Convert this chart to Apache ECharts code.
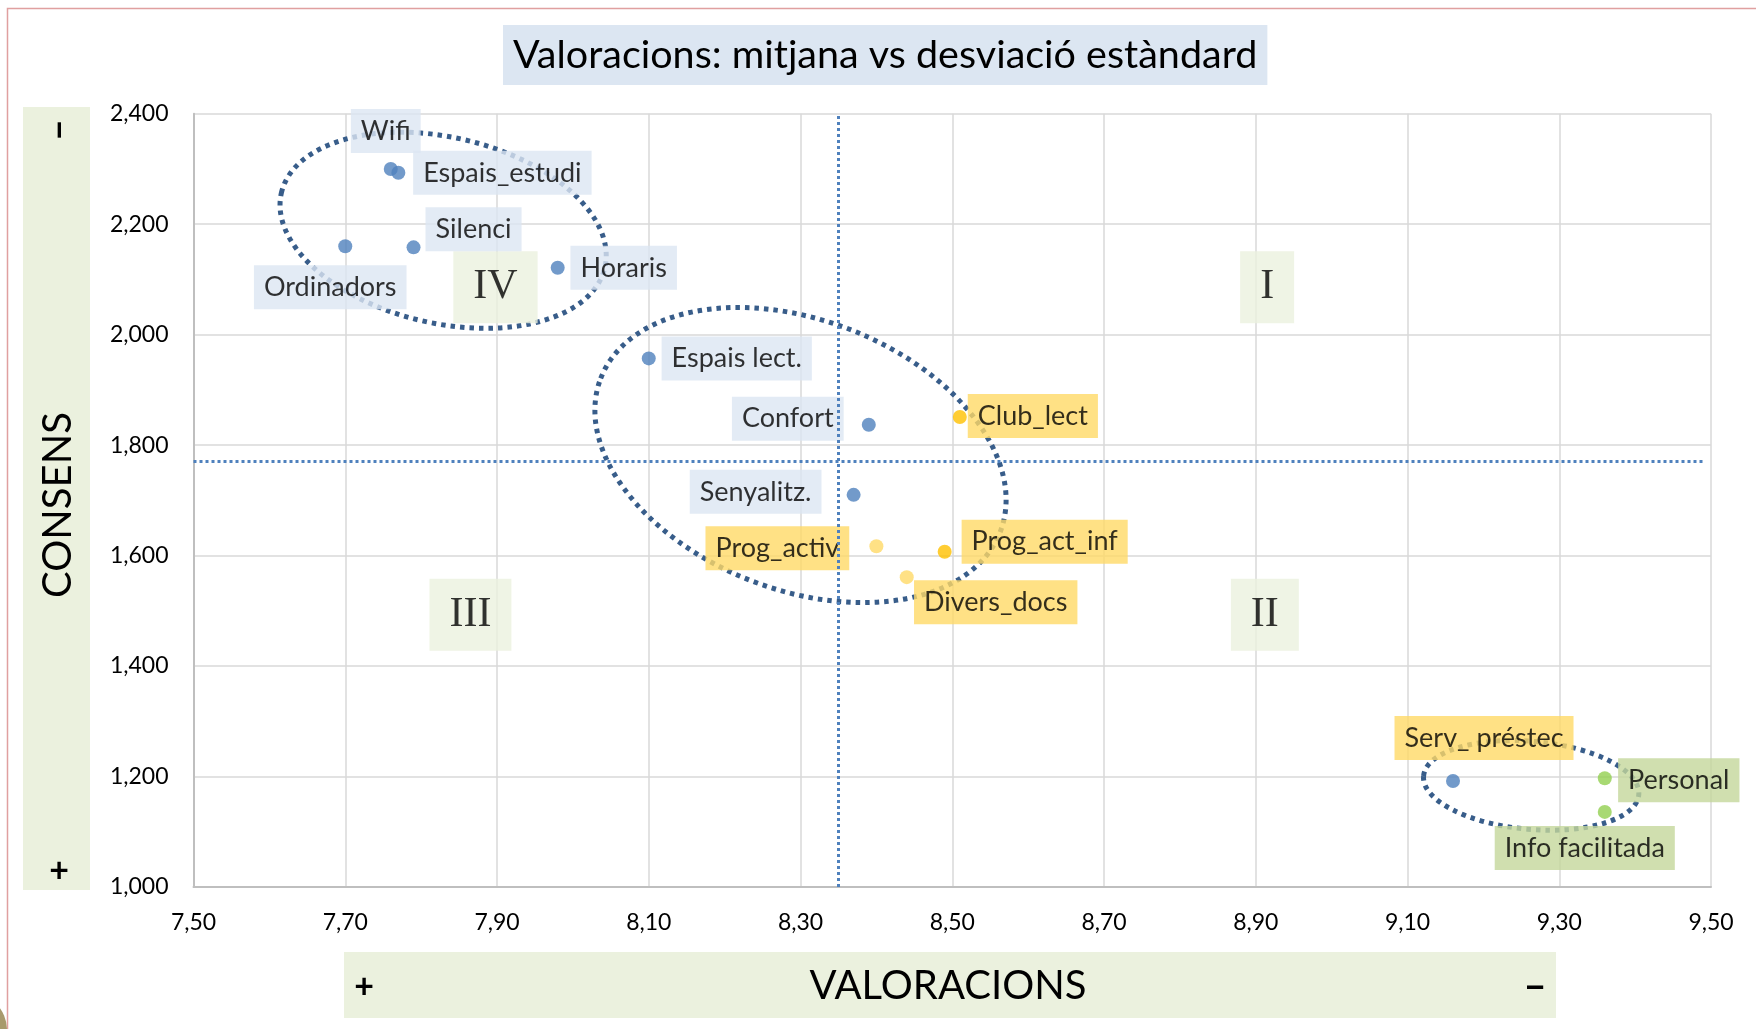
<!DOCTYPE html>
<html>
<head>
<meta charset="utf-8">
<script src="https://cdn.jsdelivr.net/npm/echarts@6/dist/echarts.min.js"></script>
<style>
html,body{margin:0;padding:0;background:#fff;}
#c{width:1756px;height:1029px;}
</style>
</head>
<body>
<div id="c"></div>
<script>
// ---- data ----
const names = ['Wifi','Espais_estudi','Silenci','Ordinadors','Horaris','Espais lect.','Confort','Club_lect','Senyalitz.','Prog_activ','Prog_act_inf','Divers_docs','Serv_ préstec','Personal','Info facilitada'];
const valoracio = [7.76, 7.77, 7.79, 7.70, 7.98, 8.10, 8.39, 8.51, 8.37, 8.40, 8.49, 8.44, 9.16, 9.36, 9.36];
const desviacio = [2.300, 2.293, 2.158, 2.160, 2.121, 1.957, 1.837, 1.851, 1.710, 1.617, 1.607, 1.561, 1.192, 1.197, 1.136];
const pointGroup = ['blau','blau','blau','blau','blau','blau','blau','taronja','blau','groc','taronja','groc','blau','verd','verd'];
const labelGroup = ['blau','blau','blau','blau','blau','blau','blau','groc','blau','groc','groc','groc','groc','verd','verd'];

const quadNames = ['I','II','III','IV'];
const quadX = [8.915, 8.912, 7.865, 7.898];
const quadY = [2.086, 1.493, 1.493, 2.086];

const meanX = 8.354;   // vertical reference line
const meanY = 1.770;   // horizontal reference line

const xTicks = { min: 7.5, max: 9.5, interval: 0.2 };
const yTicks = { min: 1.0, max: 2.4, interval: 0.2 };

// ellipses grouping the points (centre in data units)
const ellipseCX = [7.829, 8.300, 9.263];
const ellipseCY = [2.189, 1.782, 1.184];

// ---- styles ----
const pointColors = { blau: '#4F81BD', taronja: '#FFC000', groc: '#FFD966', verd: '#92D050' };
const labelColors = { blau: '#DCE6F2', groc: '#FFD966', verd: '#C4D79B' };
// label box centre offset from the point (pixels)
const labelOffsets = [[-5,-38],[104,0],[60,-18],[-15,41],[66,0],[88,0],[-81,-6],[73,-1],[-98,-3],[-99,2],[100,-10],[89,25],[31,-43],[74,2],[-20,36]];
const ellipseRX = [166, 214, 108];
const ellipseRY = [93, 135, 44];
const ellipseRot = [13, 21, 5];

const FONT = 'Lato';

const pts = names.map((n, i) => ({
  name: n,
  value: [valoracio[i], desviacio[i]],
  itemStyle: { color: pointColors[pointGroup[i]] },
  label: {
    show: true,
    formatter: n,
    position: 'inside',
    offset: labelOffsets[i],
    backgroundColor: labelColors[labelGroup[i]],
    padding: [8, 10],
    fontFamily: FONT,
    fontSize: 27,
    lineHeight: 28,
    color: '#000'
  }
}));

const quads = quadNames.map((q, i) => ({
  name: q,
  value: [quadX[i], quadY[i]],
  label: {
    show: true,
    formatter: q,
    position: 'inside',
    backgroundColor: '#EBF1DE',
    padding: [16, 20],
    fontFamily: 'Liberation Serif',
    fontSize: 42,
    lineHeight: 40,
    color: '#000'
  }
}));

const chart = echarts.init(document.getElementById('c'), null, { renderer: 'canvas' });

const option = {
  animation: false,
  backgroundColor: '#fff',
  title: {
    text: 'Valoracions: mitjana vs desviació estàndard',
    left: 503, top: 25,
    backgroundColor: '#DCE6F2',
    padding: [10, 10, 10, 10],
    textStyle: { fontFamily: FONT, fontSize: 39.5, fontWeight: 'normal', color: '#000', lineHeight: 40 }
  },
  grid: { left: 193.5, right: 45, top: 113.7, bottom: 142 },
  xAxis: {
    type: 'value', min: xTicks.min, max: xTicks.max, interval: xTicks.interval,
    axisLine: { show: true, onZero: false, lineStyle: { color: '#BFBFBF', width: 2 } },
    axisTick: { show: false },
    splitLine: { show: true, lineStyle: { color: '#D9D9D9', width: 1.5 } },
    axisLabel: { fontFamily: FONT, fontSize: 23, color: '#000', margin: 24,
      formatter: v => v.toFixed(2).replace('.', ',') }
  },
  yAxis: {
    type: 'value', min: yTicks.min, max: yTicks.max, interval: yTicks.interval,
    axisLine: { show: true, onZero: false, lineStyle: { color: '#BFBFBF', width: 2 } },
    axisTick: { show: false },
    splitLine: { show: true, lineStyle: { color: '#D9D9D9', width: 1.5 } },
    axisLabel: { fontFamily: FONT, fontSize: 23, color: '#000', margin: 25,
      formatter: v => v.toFixed(3).replace('.', ',') }
  },
  series: [
    {
      type: 'scatter', name: 'ref', data: [], z: 1, silent: true,
      markLine: {
        silent: true, symbol: 'none', label: { show: false },
        lineStyle: { color: '#4F81BD', width: 3, type: [3, 3] },
        data: [
          { xAxis: meanX },
          [{ coord: [xTicks.min, meanY] }, { coord: [9.49, meanY] }]
        ]
      }
    },
    {
      type: 'scatter', name: 'quadrants', data: quads, z: 3, silent: true,
      symbolSize: 0.1, itemStyle: { color: 'rgba(0,0,0,0)' }
    },
    {
      type: 'scatter', name: 'serveis', data: pts, z: 4, symbolSize: 14
    }
  ]
};
chart.setOption(option);

const g = [];
g.push({ type: 'rect', shape: { x: 7.5, y: 8.5, width: 1800, height: 1100 },
  style: { fill: 'none', stroke: '#E0A0A0', lineWidth: 1.5 }, z: 0, silent: true });
g.push({ type: 'circle', shape: { cx: -30, cy: 1030, r: 37 }, style: { fill: '#A89A6C' }, z: 0 });
// y-axis name box
g.push({ type: 'rect', shape: { x: 23, y: 107, width: 67, height: 783 }, style: { fill: '#EBF1DE' }, z: 0 });
g.push({ type: 'text', x: 58, y: 505, rotation: Math.PI / 2,
  style: { text: 'CONSENS', fontFamily: FONT, fontSize: 40, fill: '#000', align: 'center', verticalAlign: 'middle' }, z: 1 });
g.push({ type: 'text', x: 59, y: 130, rotation: Math.PI / 2,
  style: { text: '–', fontFamily: FONT, fontSize: 38, fontWeight: 'bold', fill: '#000', align: 'center', verticalAlign: 'middle' }, z: 1 });
g.push({ type: 'text', x: 59, y: 871,
  style: { text: '+', fontFamily: FONT, fontSize: 34, fontWeight: 'bold', fill: '#000', align: 'center', verticalAlign: 'middle' }, z: 1 });
// x-axis name box
g.push({ type: 'rect', shape: { x: 344, y: 952, width: 1212, height: 66 }, style: { fill: '#EBF1DE' }, z: 0 });
g.push({ type: 'text', x: 948, y: 986,
  style: { text: 'VALORACIONS', fontFamily: FONT, fontSize: 40, fill: '#000', align: 'center', verticalAlign: 'middle' }, z: 1 });
g.push({ type: 'text', x: 364, y: 987,
  style: { text: '+', fontFamily: FONT, fontSize: 34, fontWeight: 'bold', fill: '#000', align: 'center', verticalAlign: 'middle' }, z: 1 });
g.push({ type: 'text', x: 1535, y: 986,
  style: { text: '–', fontFamily: FONT, fontSize: 40, fontWeight: 'bold', fill: '#000', align: 'center', verticalAlign: 'middle' }, z: 1 });
// ellipses
ellipseCX.forEach((cx, i) => {
  const p = chart.convertToPixel({ gridIndex: 0 }, [cx, ellipseCY[i]]);
  g.push({ type: 'ellipse', x: p[0], y: p[1], rotation: -ellipseRot[i] * Math.PI / 180,
    shape: { cx: 0, cy: 0, rx: ellipseRX[i], ry: ellipseRY[i] },
    style: { fill: 'none', stroke: '#385D8A', lineWidth: 5, lineDash: [4.5, 5] }, z: 1, silent: true });
});
chart.setOption({ graphic: { elements: g } });
</script>
</body>
</html>
